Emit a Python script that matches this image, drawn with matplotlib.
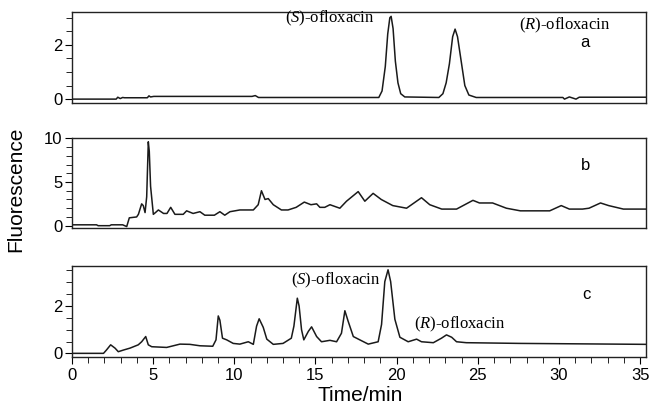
import matplotlib
matplotlib.use("Agg")
import matplotlib.pyplot as plt
from matplotlib.ticker import MultipleLocator

plt.rcParams['font.family'] = ['Liberation Sans', 'DejaVu Sans']
plt.rcParams['mathtext.fontset'] = 'custom'
plt.rcParams['mathtext.rm'] = 'Liberation Serif'
plt.rcParams['mathtext.it'] = 'Liberation Serif:italic'

# trace a: standard (S)/(R)-ofloxacin
time_a = [0, 2.72, 2.82, 2.97, 3.12, 3.23, 4.64, 4.74, 4.84, 5.04, 11.09, 11.29, 11.49,
          18.9, 19.1, 19.3, 19.45, 19.58, 19.66, 19.78, 19.92, 20.08, 20.25, 20.5,
          22.6, 22.85, 23.05, 23.25, 23.45, 23.6, 23.75, 24.0, 24.2, 24.45, 24.9,
          30.24, 30.34, 30.64, 31.05, 31.25, 35.4]
fluor_a = [0.0, 0.0, 0.07, 0.02, 0.06, 0.05, 0.05, 0.12, 0.08, 0.1, 0.1, 0.13, 0.06,
           0.06, 0.3, 1.2, 2.4, 3.0, 3.05, 2.6, 1.4, 0.6, 0.2, 0.08,
           0.06, 0.2, 0.6, 1.3, 2.3, 2.58, 2.3, 1.3, 0.5, 0.15, 0.06,
           0.06, 0.0, 0.08, 0.0, 0.07, 0.07]

# trace b: blank sample
time_b = [0, 1.51, 1.61, 2.32, 2.42, 3.12, 3.37, 3.53, 3.98, 4.09, 4.29, 4.39, 4.5, 4.6, 4.7,
          4.76, 4.84, 5.01, 5.14, 5.32, 5.64, 5.85, 6.08, 6.34, 6.85, 7.06, 7.46, 7.88, 8.18,
          8.77, 9.11, 9.41, 9.73, 10.34, 11.17, 11.47, 11.67, 11.89, 12.09, 12.4, 12.9, 13.31,
          13.81, 14.31, 14.72, 15.07, 15.27, 15.57, 15.89, 16.5, 16.91, 17.63, 18.04, 18.55,
          19.05, 19.76, 20.61, 21.53, 22.04, 22.78, 23.69, 24.7, 25.1, 25.91, 26.76, 27.62,
          29.43, 30.14, 30.64, 31.45, 31.85, 32.56, 33.06, 33.97, 35.4]
fluor_b = [0.1, 0.1, 0.0, 0.0, 0.1, 0.1, -0.1, 0.9, 1.0, 1.3, 2.5, 2.3, 1.5, 3.3, 9.6,
           8.5, 4.5, 1.3, 1.5, 1.8, 1.4, 1.4, 2.1, 1.3, 1.3, 1.7, 1.4, 1.6, 1.2,
           1.2, 1.6, 1.2, 1.6, 1.8, 1.8, 2.4, 4.0, 3.0, 3.1, 2.4, 1.8, 1.8,
           2.1, 2.7, 2.4, 2.5, 2.1, 2.1, 2.4, 2.0, 2.8, 3.9, 2.8, 3.7,
           3.0, 2.3, 2.0, 3.2, 2.4, 1.9, 1.9, 2.9, 2.6, 2.6, 2.0, 1.7,
           1.7, 2.3, 1.9, 1.9, 2.0, 2.6, 2.3, 1.9, 1.9]

# trace c: spiked sample
time_c = [0, 1.94, 2.12, 2.38, 2.65, 2.85, 3.17, 3.57, 4.08, 4.29, 4.54, 4.7, 4.91, 5.83,
          6.65, 7.26, 7.88, 8.67, 8.87, 9.01, 9.11, 9.27, 9.53, 9.93, 10.34, 10.86, 11.17,
          11.37, 11.53, 11.78, 12.0, 12.4, 13.0, 13.51, 13.67, 13.88, 13.99, 14.14, 14.28,
          14.56, 14.76, 15.07, 15.37, 15.89, 16.3, 16.6, 16.81, 17.01, 17.33, 17.73, 18.25,
          18.86, 19.07, 19.27, 19.47, 19.63, 19.89, 20.2, 20.71, 21.23, 21.53, 22.26, 22.76,
          23.07, 23.39, 23.69, 24.29, 27.62, 35.4]
fluor_c = [0.0, 0.0, 0.14, 0.36, 0.22, 0.07, 0.14, 0.22, 0.36, 0.49, 0.71, 0.36, 0.28, 0.25,
           0.39, 0.38, 0.32, 0.3, 0.57, 1.58, 1.4, 0.64, 0.57, 0.42, 0.39, 0.49, 0.38,
           1.15, 1.46, 1.1, 0.6, 0.38, 0.42, 0.64, 1.15, 2.33, 2.0, 1.0, 0.57,
           0.93, 1.12, 0.71, 0.49, 0.55, 0.49, 0.85, 1.8, 1.36, 0.71, 0.57, 0.39,
           0.49, 1.22, 3.03, 3.53, 3.03, 1.44, 0.68, 0.49, 0.6, 0.49, 0.45, 0.64,
           0.78, 0.68, 0.49, 0.45, 0.42, 0.38]

fig = plt.figure(figsize=(6.5, 4.11), dpi=100)
ax_a = fig.add_axes([0.1108, 0.7506, 0.8830, 0.2195])
ax_b = fig.add_axes([0.1108, 0.4445, 0.8830, 0.2190])
ax_c = fig.add_axes([0.1108, 0.1322, 0.8830, 0.2206])

panels = [(ax_a, time_a, fluor_a, (-0.125, 3.2), 2, 0.5),
          (ax_b, time_b, fluor_b, (-0.3, 10.0), 5, 1),
          (ax_c, time_c, fluor_c, (-0.14, 3.69), 2, 0.5)]

for ax, t, f, ylim, major, minor in panels:
    ax.plot(t, f, color='#1a1a1a', lw=1.1)
    ax.set_xlim(0, 35.36)
    ax.set_ylim(*ylim)
    ax.yaxis.set_major_locator(MultipleLocator(major))
    ax.yaxis.set_minor_locator(MultipleLocator(minor))
    ax.tick_params(axis='y', which='major', length=5, labelsize=12, pad=2)
    ax.tick_params(axis='y', which='minor', length=4)
    for s in ax.spines.values():
        s.set_linewidth(1.0)
        s.set_color('#222222')
    if ax is not ax_c:
        ax.tick_params(axis='x', which='both', bottom=False, labelbottom=False)

ax_c.xaxis.set_major_locator(MultipleLocator(5))
ax_c.xaxis.set_minor_locator(MultipleLocator(1))
ax_c.tick_params(axis='x', which='major', length=5, labelsize=12, pad=3)
ax_c.tick_params(axis='x', which='minor', length=4)

serif = 'Liberation Serif'
ax_a.text(15.9, 2.98, r'($\it{S}$)-ofloxacin', family=serif, fontsize=12, ha='center', va='center')
ax_a.text(30.35, 2.7, r'($\it{R}$)-ofloxacin', family=serif, fontsize=12, ha='center', va='center')
ax_a.text(31.6, 2.07, 'a', fontsize=12, ha='center', va='center')
ax_b.text(31.65, 6.9, 'b', fontsize=12, ha='center', va='center')
ax_c.text(16.27, 3.09, r'($\it{S}$)-ofloxacin', family=serif, fontsize=12, ha='center', va='center')
ax_c.text(23.9, 1.22, r'($\it{R}$)-ofloxacin', family=serif, fontsize=12, ha='center', va='center')
ax_c.text(31.7, 2.5, 'c', fontsize=12, ha='center', va='center')

fig.text(0.024, 0.54, 'Fluorescence', rotation=90, fontsize=15, ha='center', va='center')
fig.text(0.554, 0.038, 'Time/min', fontsize=15, ha='center', va='center')

fig.savefig('out.png', dpi=100)
